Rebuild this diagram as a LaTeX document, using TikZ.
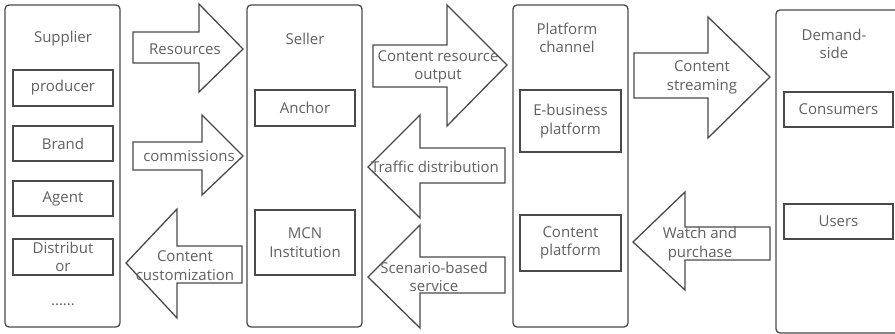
\documentclass[tikz,border=0pt]{standalone}
\usepackage{fontspec}
\setmainfont{Open Sans}
\begin{document}
\begin{tikzpicture}[x=1pt,y=-1pt,
  line width=1.3pt,
  every node/.style={text=txt, font=\fontsize{15}{18.5}\selectfont, align=center},
  col/.style={draw=edge, rounded corners=4pt, minimum width=#1, minimum height=322pt, inner sep=0pt},
  box/.style={draw=edge, inner sep=0pt, minimum width=100pt},
  blk/.style={draw=edge, fill=white, line join=miter}]
\definecolor{edge}{HTML}{4A4A4A}
\definecolor{txt}{HTML}{606060}
\useasboundingbox (0,0) rectangle (895,334);
\clip (0,0) rectangle (895,334);

% ---- columns ----
\node[col=115pt] (sup) at (62.5,166) {};
\node[col=115pt] (sel) at (304.5,166) {};
\node[col=115pt] (plat) at (570.5,166) {};
\node[col=130pt, minimum height=323pt] (dem) at (841,171.5) {};

% ---- column titles ----
\node (tsup) at (63,39) {Supplier};
\node (tsel) at (305,39) {Seller};
\node (tplat) at (567,38) {Platform\\channel};
\node (tdem) at (834,44) {Demand-\\side};

% ---- supplier members ----
\node[box, minimum height=36pt] (prod) at (63,88) {producer};
\node[box, minimum height=35pt] (brand) at (63,143.5) {Brand};
\node[box, minimum height=35pt] (agent) at (63,198.5) {Agent};
\node[box, minimum height=36pt] (dist) at (63,257) {Distribut\\or};
\node (more) at (63,305) {......};

% ---- seller members ----
\node[box, minimum height=36pt] (anchor) at (305,108) {Anchor};
\node[box, minimum height=65pt] (mcn) at (305,242.5) {MCN\\Institution};

% ---- platform members ----
\node[box, minimum width=101pt, minimum height=62pt] (ebiz) at (570.5,121) {E-business\\platform};
\node[box, minimum width=101pt, minimum height=56pt] (cplat) at (570.5,243) {Content\\platform};

% ---- demand members ----
\node[box, minimum width=109pt, minimum height=35pt] (cons) at (838.5,109.5) {Consumers};
\node[box, minimum width=109pt, minimum height=35pt] (users) at (838.5,221.5) {Users};

% ---- block arrows ----
% Resources (supplier -> seller)
\draw[blk] (133,32) -- (199,32) -- (199,4) -- (243,49) -- (199,92) -- (199,63) -- (133,63) -- cycle;
% commissions (supplier -> seller)
\draw[blk] (133,142) -- (202,142) -- (202,115) -- (243,156) -- (202,195) -- (202,170) -- (133,170) -- cycle;
% Content customization (seller -> supplier)
\draw[blk] (242,246) -- (177,246) -- (177,209) -- (126,263) -- (177,318) -- (177,283) -- (242,283) -- cycle;
% Content resource output (seller -> platform)
\draw[blk] (373,45) -- (447,45) -- (447,5) -- (507,65) -- (447,126) -- (447,87) -- (373,87) -- cycle;
% Traffic distribution (platform -> seller)
\draw[blk] (505,148) -- (420,148) -- (420,115) -- (368,167) -- (420,218) -- (420,183) -- (505,183) -- cycle;
% Scenario-based service (platform -> seller)
\draw[blk] (505,257) -- (420,257) -- (420,225) -- (368,277) -- (420,328) -- (420,293) -- (505,293) -- cycle;
% Content streaming (platform -> demand)
\draw[blk] (634,53) -- (708,53) -- (708,17) -- (770,77) -- (708,138) -- (708,98) -- (634,98) -- cycle;
% Watch and purchase (demand -> platform)
\draw[blk] (770,227) -- (685,227) -- (685,192) -- (633,242) -- (685,290) -- (685,260) -- (770,260) -- cycle;

% ---- arrow labels ----
\node (lres) at (185,49) {Resources};
\node (lcom) at (189,156) {commissions};
\node (lcus) at (185,265.5) {Content\\customization};
\node (lcro) at (438,67) {Content resource\\output};
\node (ltra) at (435,167) {Traffic distribution};
\node (lsce) at (434,277) {Scenario-based\\service};
\node (lstr) at (702,77.5) {Content\\streaming};
\node (lwat) at (700,244) {Watch and\\purchase};
\end{tikzpicture}
\end{document}
